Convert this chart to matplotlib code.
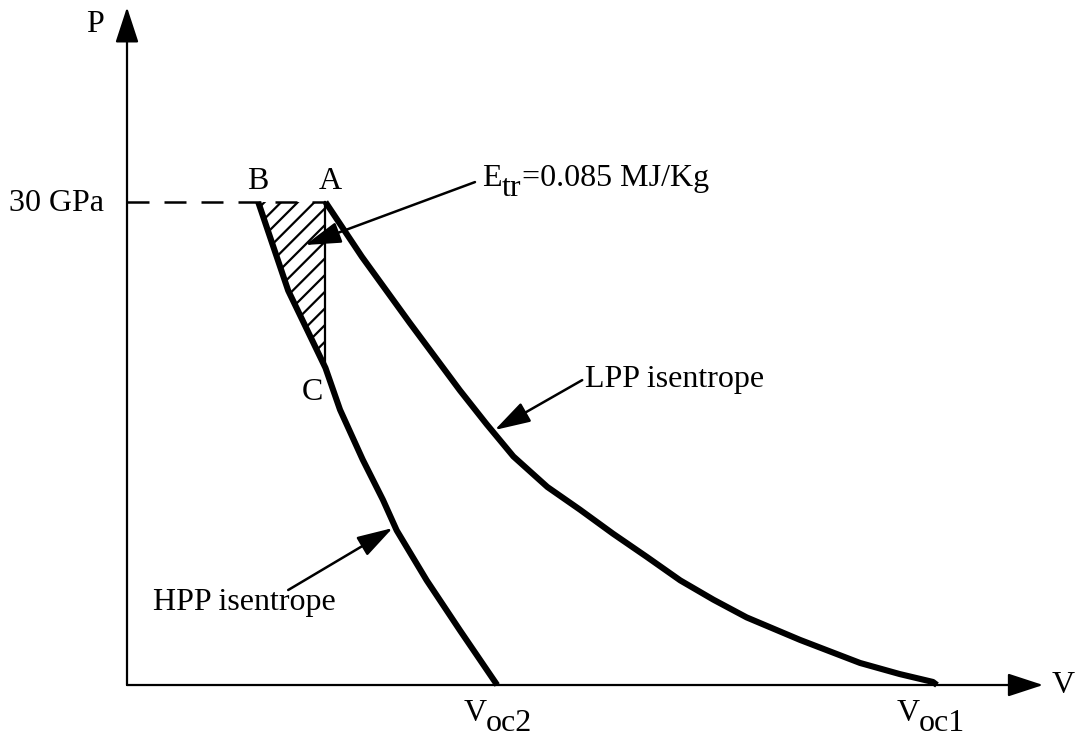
import matplotlib
matplotlib.use("Agg")
import matplotlib.pyplot as plt
from matplotlib.patches import Polygon

plt.rcParams["font.family"] = ["Liberation Serif", "DejaVu Serif"]
plt.rcParams["hatch.linewidth"] = 1.6

# --- data (V in arbitrary units, P in GPa) ---
P_TRANSITION = 30.0
V_A = 24.5

hpp_v = [16.2, 19.9, 24.5, 26.3, 29.1, 31.6, 33.3, 37.0, 41.1, 45.7]
hpp_p = [30.0, 24.5, 19.7, 17.1, 14.0, 11.5, 9.6, 6.5, 3.4, 0.0]
IDX_C = 2

lpp_v = [24.5, 29.0, 34.9, 41.1, 44.4, 47.7, 51.9, 55.9, 60.0, 64.2,
         68.3, 72.4, 76.5, 83.1, 90.5, 95.4, 99.5, 100.0]
lpp_p = [30.0, 26.6, 22.5, 18.3, 16.2, 14.2, 12.3, 10.9, 9.4, 7.95,
         6.5, 5.3, 4.2, 2.8, 1.37, 0.68, 0.19, 0.0]

V_OC2 = hpp_v[-1]
V_OC1 = lpp_v[-1]

V_MAX = 113.1
P_MAX = 42.1

fig = plt.figure(figsize=(10.81, 7.42), dpi=100)
ax = fig.add_axes([0, 0, 1, 1])
ax.set_xlim(-15.68, 117.78)
ax.set_ylim(-3.54, 42.55)
ax.axis("off")

# axes with arrow heads
axis_arrow = dict(arrowstyle="-|>,head_length=1.1,head_width=0.36",
                  mutation_scale=20, lw=1.6, color="black",
                  shrinkA=0, shrinkB=0)
ax.annotate("", xy=(V_MAX, 0), xytext=(0, 0), arrowprops=axis_arrow)
ax.annotate("", xy=(0, P_MAX), xytext=(0, 0), arrowprops=axis_arrow)

# transition pressure dashed line
ax.plot([0, V_A], [P_TRANSITION, P_TRANSITION], color="black", lw=1.8,
        linestyle=(0, (8.8, 6.0)))

# hatched energy region B-A-C
hatch_pts = [(V_A, P_TRANSITION)]
hatch_pts += [(v, p) for v, p in zip(hpp_v[:IDX_C + 1][::-1], hpp_p[:IDX_C + 1][::-1])]
ax.add_patch(Polygon(hatch_pts, closed=True, facecolor="none",
                     edgecolor="black", linewidth=0, hatch="//"))
ax.plot([V_A, V_A], [P_TRANSITION, hpp_p[IDX_C]], color="black", lw=1.6)

# isentropes
ax.plot(hpp_v, hpp_p, color="black", lw=4.4, solid_capstyle="butt")
ax.plot(lpp_v, lpp_p, color="black", lw=4.4, solid_capstyle="butt")

fs = 23
ax.text(-3.95, 41.0, "P", fontsize=fs, ha="center", va="center")
ax.text(115.6, 0, "V", fontsize=fs, ha="center", va="center")
ax.text(-2.9, 29.9, "30 GPa", fontsize=fs, ha="right", va="center")
ax.text(16.2, 31.3, "B", fontsize=fs, ha="center", va="center")
ax.text(25.1, 31.3, "A", fontsize=fs, ha="center", va="center")
ax.text(22.9, 18.2, "C", fontsize=fs, ha="center", va="center")

# V_oc labels (subscript drawn at full size, shifted down)
ax.text(44.4, -2.24, "V", fontsize=fs, ha="right", va="baseline")
ax.text(44.3, -2.86, "oc2", fontsize=fs, ha="left", va="baseline")
ax.text(97.9, -2.24, "V", fontsize=fs, ha="right", va="baseline")
ax.text(97.7, -2.86, "oc1", fontsize=fs, ha="left", va="baseline")

label_arrow = dict(arrowstyle="-|>,head_length=1.1,head_width=0.33",
                   mutation_scale=20, lw=1.8, color="black",
                   shrinkA=0, shrinkB=0)
ax.annotate("", xy=(21.98, 27.33), xytext=(42.96, 31.24), arrowprops=label_arrow)
ax.text(43.8, 31.0, "E", fontsize=fs, ha="left", va="baseline")
ax.text(46.3, 30.37, "tr", fontsize=fs, ha="left", va="baseline")
ax.text(48.8, 31.0, "=0.085 MJ/Kg", fontsize=fs, ha="left", va="baseline")

ax.annotate("", xy=(45.4, 15.84), xytext=(56.2, 18.94), arrowprops=label_arrow)
ax.text(56.6, 18.5, "LPP isentrope", fontsize=fs, ha="left", va="baseline")

ax.annotate("", xy=(32.8, 9.75), xytext=(19.9, 5.9), arrowprops=label_arrow)
ax.text(3.2, 4.66, "HPP isentrope", fontsize=fs, ha="left", va="baseline")

fig.savefig("out.png", dpi=100)
